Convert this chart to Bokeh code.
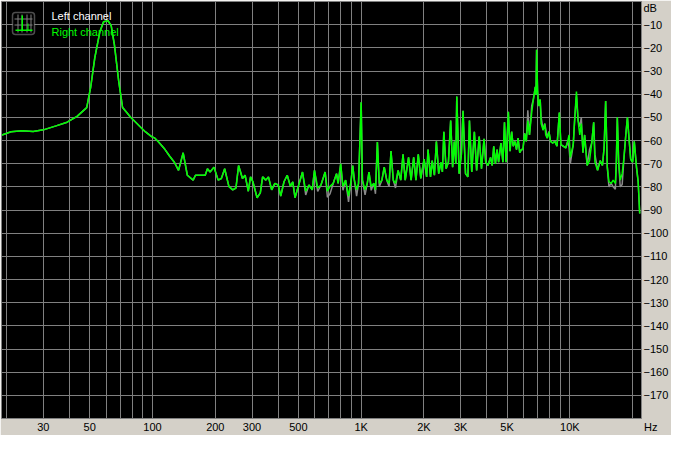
from bokeh.plotting import figure
from bokeh.models import FixedTicker, Label, BoxAnnotation, Range1d
from bokeh.embed import file_html
from bokeh.resources import INLINE

# ---------------- data ----------------
freq = [19, 21, 23.7, 26.8, 30, 34.5, 39, 43.5, 48.4, 50.6, 52.9, 55.9, 58.3, 61.2, 63.4,
        65.7, 68.8, 71.9, 78.6, 89, 92.3, 99, 102.7, 106.4, 114.4, 120.7, 127.3, 133.3,
        140.3, 146.9, 156.6, 160.7, 178.9, 183.4, 188.8, 197.1, 206.4, 213.8, 221.8,
        232.3, 242.4, 251.2, 258.6, 269.9, 277.8, 287.9, 295.1, 302.8, 317.1, 328.6,
        337.1, 349.2, 359.5, 372.5, 385.9, 400.4, 411.7, 426.9, 442.3, 458.3, 470.2,
        481.9, 504.7, 523.5, 542.4, 562, 583, 597.4, 619, 641.9, 672.1, 688.9, 709.3,
        734.9, 762, 775.4, 798, 818, 842.2, 870, 895.4, 911, 927.7, 951, 971.4, 1000,
        1014, 1044, 1070, 1090, 1117, 1150, 1171, 1196, 1222, 1257, 1290, 1326, 1361,
        1390, 1425, 1461, 1503, 1548, 1587, 1626, 1687, 1735, 1785, 1830, 1878, 1931,
        2002, 2060, 2091, 2149, 2189, 2244, 2293, 2353, 2412, 2450, 2490, 2553, 2619,
        2685, 2743, 2794, 2842, 2872, 2948, 3021, 3077, 3163, 3246, 3303, 3388, 3487,
        3576, 3678, 3773, 3880, 3953, 4052, 4169, 4246, 4319, 4399, 4480, 4557, 4676,
        4778, 4862, 4950, 5075, 5168, 5262, 5354, 5452, 5553, 5649, 5753, 5859, 5961,
        6070, 6183, 6290, 6406, 6567, 6686, 6832, 6884, 6930, 7002, 7078, 7209, 7287,
        7445, 7581, 7664, 7796, 7940, 8087, 8289, 8469, 8681, 8906, 9060, 9327, 9559,
        9765, 9915, 10053, 10382, 10573, 10757, 10954, 11158, 11350, 11559, 11773,
        12106, 12421, 12731, 13010, 13192, 13580, 13980, 14330, 14593, 14847, 15119,
        15397, 15780, 16125, 16527, 16703, 16886, 17140, 17439, 17816, 18203, 18541,
        18880, 19210, 19564, 19988, 20355, 20864, 21253, 21618]

right_db = [-57.6, -56.2, -55.8, -56.1, -55.4, -53.7, -52.1, -49.6, -45.8, -36.8, -24.3,
            -13.2, -8.7, -8.3, -10.4, -18.7, -34.0, -45.8, -50.0, -54.8, -56.2, -58.3,
            -59.0, -60.4, -63.7, -66.7, -69.4, -72.9, -65.3, -75.0, -77.1, -75.0, -75.0,
            -72.2, -73.6, -71.5, -77.1, -76.4, -72.2, -79.8, -81.3, -80.5, -70.8, -76.4,
            -75.0, -81.9, -75.7, -77.8, -84.7, -82.6, -75.7, -77.1, -75.7, -81.3, -78.5,
            -79.2, -84.0, -77.8, -75.0, -79.8, -77.8, -84.7, -78.5, -73.6, -81.9, -79.2,
            -81.3, -72.9, -80.5, -79.2, -73.6, -81.9, -79.8, -78.5, -74.3, -78.5, -70.1,
            -79.8, -77.1, -84.0, -77.1, -70.8, -77.1, -81.3, -78.5, -43.5, -77.1, -81.3,
            -78.5, -73.6, -79.8, -78.5, -81.3, -60.7, -78.5, -77.1, -71.5, -77.1, -78.5,
            -64.6, -77.1, -78.5, -72.9, -77.1, -66.0, -77.1, -67.3, -77.1, -67.3, -77.1,
            -66.0, -76.4, -68.0, -75.7, -63.9, -75.7, -68.7, -75.0, -60.4, -74.3, -69.4,
            -73.6, -56.2, -72.2, -69.4, -51.4, -71.5, -60.4, -70.1, -41.0, -74.3, -66.0,
            -47.2, -74.3, -75.7, -51.4, -73.6, -56.2, -72.9, -58.3, -72.2, -59.3, -69.4,
            -70.8, -67.3, -70.8, -62.5, -70.1, -63.9, -69.4, -61.1, -69.4, -52.1, -69.4,
            -47.6, -64.6, -56.2, -62.5, -60.4, -63.9, -59.0, -65.3, -63.9, -63.9, -56.9,
            -60.4, -51.4, -57.6, -47.9, -42.3, -36.8, -40.3, -20.8, -38.2, -45.1, -42.3,
            -52.7, -55.5, -52.7, -57.6, -59.0, -56.2, -60.4, -61.1, -60.4, -62.5, -47.9,
            -61.8, -62.5, -63.2, -60.4, -57.6, -67.3, -61.8, -49.3, -38.9, -51.4, -57.6,
            -52.7, -65.3, -57.6, -70.8, -68.7, -61.1, -52.1, -69.4, -72.9, -68.7, -70.8,
            -63.2, -43.0, -71.5, -77.8, -78.5, -77.1, -78.5, -69.4, -50.0, -69.4, -77.1,
            -74.3, -66.7, -57.6, -50.0, -59.0, -68.0, -69.4, -60.4, -71.5, -77.8, -91.5]

left_db = [-57.6, -56.2, -55.8, -56.1, -55.4, -53.7, -52.1, -49.6, -45.8, -36.8, -24.3,
           -13.2, -8.7, -8.3, -10.4, -18.7, -34.0, -45.8, -50.0, -54.8, -56.2, -58.3,
           -59.0, -60.4, -63.7, -66.7, -69.4, -72.9, -65.3, -75.0, -77.1, -75.0, -75.0,
           -72.2, -73.6, -71.5, -77.1, -76.4, -72.2, -79.8, -81.3, -80.5, -70.8, -76.4,
           -75.0, -81.9, -75.7, -77.8, -84.7, -82.6, -75.7, -77.1, -75.7, -81.3, -78.5,
           -79.2, -84.0, -77.8, -75.0, -79.8, -77.8, -84.7, -78.5, -73.6, -83.5, -79.2,
           -81.3, -72.9, -82.0, -79.2, -73.6, -84.5, -83.0, -78.5, -74.3, -78.5, -70.1,
           -81.5, -77.1, -86.5, -77.1, -70.8, -77.1, -84.0, -78.5, -43.5, -77.1, -83.5,
           -78.5, -73.6, -81.5, -78.5, -83.0, -60.7, -80.0, -77.1, -71.5, -77.1, -80.0,
           -64.6, -77.1, -80.5, -72.9, -77.1, -66.0, -77.1, -67.3, -77.1, -67.3, -77.1,
           -66.0, -76.4, -68.0, -75.7, -63.9, -75.7, -68.7, -75.0, -60.4, -74.3, -69.4,
           -73.6, -56.2, -72.2, -69.4, -51.4, -71.5, -60.4, -70.1, -41.0, -74.3, -66.0,
           -47.2, -74.3, -75.7, -51.4, -73.6, -56.2, -72.9, -58.3, -72.2, -59.3, -69.4,
           -70.8, -67.3, -70.8, -62.5, -70.1, -63.9, -69.4, -61.1, -69.4, -52.1, -69.4,
           -47.6, -64.6, -56.2, -62.5, -60.4, -63.9, -59.0, -65.3, -63.9, -63.9, -56.9,
           -60.4, -47.0, -57.6, -45.0, -42.3, -36.8, -40.3, -20.8, -38.2, -45.1, -42.3,
           -50.0, -55.5, -52.7, -55.0, -59.0, -56.2, -60.4, -61.1, -60.4, -62.5, -47.9,
           -61.8, -62.5, -63.2, -60.4, -63.0, -70.0, -61.8, -49.3, -41.0, -51.4, -54.0,
           -50.0, -65.3, -57.6, -70.8, -64.0, -61.1, -52.1, -66.0, -72.9, -68.7, -70.8,
           -63.2, -43.0, -71.5, -80.0, -78.5, -80.0, -81.0, -69.4, -50.0, -69.4, -80.0,
           -79.0, -66.7, -57.6, -50.0, -59.0, -68.0, -69.4, -60.4, -71.5, -77.8, -91.5]

X0, X1 = 18.9, 22050
x_ticks = [30, 50, 100, 200, 300, 500, 1000, 2000, 3000, 5000, 10000, X1]
x_tick_labels = ["30", "50", "100", "200", "300", "500", "1K", "2K", "3K", "5K", "10K",
                 "\u00a0" * 6 + "Hz"]
x_grid = [20, 30, 40, 50, 60, 70, 80, 90, 100, 200, 300, 400, 500, 600, 700, 800, 900,
          1000, 2000, 3000, 4000, 5000, 6000, 7000, 8000, 9000, 10000, 20000]
y_ticks = [-10, -20, -30, -40, -50, -60, -70, -80, -90, -100, -110, -120, -130, -140,
           -150, -160, -170]
y_unit_pos = -3
y_unit = "dB"
series_names = ["Left channel", "Right channel"]

# ---------------- styling ----------------
BG = "#d4d0c8"
GRID = "#808080"
GREEN = "#00ff00"
LEFTC = "#8a8a8a"
FONT = "Liberation Sans"

W, H = 671, 435
FW, FH = W - 1 - 26, H - 1 - 17

p = figure(width=W, height=H, x_axis_type="log",
           x_range=Range1d(X0, X1), y_range=Range1d(-180, 0),
           y_axis_location="right", output_backend="svg", toolbar_location=None,
           min_border_left=1, min_border_top=1, min_border_right=26, min_border_bottom=17,
           background_fill_color="black", border_fill_color=BG,
           outline_line_color=GRID, outline_line_width=1)

for ax in (p.xaxis[0], p.yaxis[0]):
    ax.axis_line_color = None
    ax.major_tick_line_color = None
    ax.minor_tick_line_color = None
    ax.major_tick_out = 0
    ax.major_tick_in = 0
    ax.minor_tick_out = 0
    ax.minor_tick_in = 0
    ax.major_label_text_font = FONT
    ax.major_label_text_font_size = "11px"
    ax.major_label_text_color = "black"
    ax.major_label_standoff = 2

p.xaxis[0].ticker = FixedTicker(ticks=x_ticks)
p.xaxis[0].major_label_overrides = {t: l for t, l in zip(x_ticks, x_tick_labels)}
p.yaxis[0].ticker = FixedTicker(ticks=[y_unit_pos] + y_ticks)
p.yaxis[0].major_label_overrides = {y_unit_pos: y_unit}

p.xgrid.ticker = FixedTicker(ticks=x_grid)
p.ygrid.ticker = FixedTicker(ticks=y_ticks)
for g in (p.xgrid[0], p.ygrid[0]):
    g.grid_line_color = GRID
    g.grid_line_alpha = 1.0
    g.grid_line_width = 1

p.line(freq, left_db, line_color=LEFTC, line_width=1.5)
p.line(freq, right_db, line_color=GREEN, line_width=1.5)

# legend icon
def sbox(l, r, t, b, **kw):
    p.add_layout(BoxAnnotation(left=l, right=r, top=FH - t, bottom=FH - b,
                               left_units="screen", right_units="screen",
                               top_units="screen", bottom_units="screen", **kw))

sbox(11, 33, 11, 33, fill_color="black", fill_alpha=1, line_color="white",
     line_width=1.5, border_radius=3)
for gx in (16, 20, 25, 29):
    sbox(gx, gx + 1, 13, 31, fill_color=GRID, fill_alpha=1, line_color=None)
for gy in (17, 23):
    sbox(13, 31, gy, gy + 1, fill_color=GRID, fill_alpha=1, line_color=None)
sbox(14, 31, 28, 29.5, fill_color=GREEN, fill_alpha=1, line_color=None)
sbox(20, 21.5, 14, 29, fill_color=GREEN, fill_alpha=1, line_color=None)
sbox(26, 27, 22, 29, fill_color=GREEN, fill_alpha=1, line_color=None)

# legend texts
p.add_layout(Label(x=50, y=FH - 14, x_units="screen", y_units="screen",
                   text=series_names[0], text_font=FONT, text_font_size="11px",
                   text_color="white", text_baseline="middle"))
p.add_layout(Label(x=50, y=FH - 30, x_units="screen", y_units="screen",
                   text=series_names[1], text_font=FONT, text_font_size="11px",
                   text_color=GREEN, text_baseline="middle"))

open("out.html", "w").write(file_html(p, INLINE))
